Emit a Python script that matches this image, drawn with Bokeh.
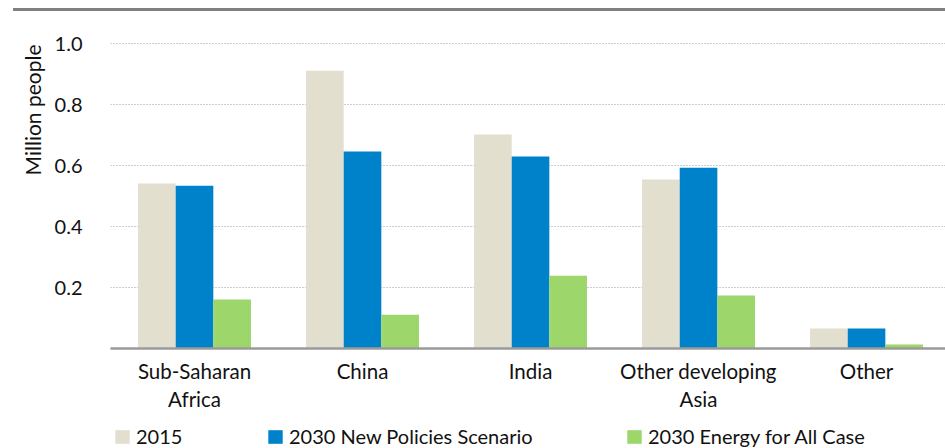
import numpy as np
from bokeh.plotting import figure
from bokeh.models import (ColumnDataSource, Range1d, FixedTicker, Legend,
                          LegendItem, Div, NumeralTickFormatter, Title)
from bokeh.layouts import column
from bokeh.transform import dodge
from bokeh.embed import file_html
from bokeh.resources import INLINE

categories = ["Sub-Saharan\nAfrica", "China", "India", "Other developing\nAsia", "Other"]
v2015 = [0.541, 0.911, 0.702, 0.554, 0.066]
v2030_nps = [0.534, 0.646, 0.630, 0.593, 0.066]
v2030_efa = [0.161, 0.111, 0.239, 0.174, 0.013]
series_names = ["2015", "2030 New Policies Scenario", "2030 Energy for All Case"]
colors = ["#e2dfcf", "#0082ca", "#9dd66b"]
y_ticks = [0.2, 0.4, 0.6, 0.8, 1.0]

FONT = "Lato"
TXT = "#111111"
xs = list(np.arange(len(categories)) + 0.5)
src = ColumnDataSource(dict(x=xs, a=v2015, b=v2030_nps, c=v2030_efa))

p = figure(width=945, height=404, output_backend="svg", toolbar_location=None,
           x_range=Range1d(0, 4.97), y_range=Range1d(0, 1.03),
           min_border_left=110, min_border_right=0, min_border_top=18,
           min_border_bottom=72)
p.outline_line_color = None

bw = 0.224
for key, off, col in zip(["a", "b", "c"], [-bw, 0, bw], colors):
    p.vbar(x=dodge("x", off), top=key, width=bw, source=src,
           fill_color=col, line_color=None)

p.xaxis.ticker = FixedTicker(ticks=xs)
p.xaxis.major_label_overrides = {x: c for x, c in zip(xs, categories)}
p.xaxis.axis_line_color = "#9a9a9a"
p.xaxis.axis_line_width = 2.5
p.xaxis.major_tick_line_color = None
p.xaxis.minor_tick_line_color = None
p.xaxis.major_label_text_font = FONT
p.xaxis.major_label_text_font_size = "20.5px"
p.xaxis.major_label_text_color = TXT
p.xaxis.major_label_standoff = 4

p.yaxis.ticker = FixedTicker(ticks=y_ticks)
p.yaxis.formatter = NumeralTickFormatter(format="0.0")
p.yaxis.axis_line_color = None
p.yaxis.major_tick_line_color = None
p.yaxis.minor_tick_line_color = None
p.yaxis.major_label_text_font = FONT
p.yaxis.major_label_text_font_size = "20px"
p.yaxis.major_label_text_color = TXT
p.yaxis.major_label_standoff = 22

p.xgrid.grid_line_color = None
p.ygrid.ticker = FixedTicker(ticks=y_ticks)
p.ygrid.grid_line_color = "#9a9a9a"
p.ygrid.grid_line_dash = "1 2"
p.ygrid.grid_line_width = 1

p.add_layout(Title(text="Million people", align="right", offset=10,
                   standoff=13, text_font=FONT, text_font_size="21px",
                   text_font_style="normal", text_color=TXT), "left")

# legend strip (proxy bars lie outside its visible range)
lf = figure(width=945, height=28, output_backend="svg", toolbar_location=None,
            x_range=Range1d(-10, -9), y_range=Range1d(0, 1),
            x_axis_location=None, y_axis_location=None, min_border=0)
lf.outline_line_color = None
lf.grid.visible = False
for name, col, vals, lx in zip(series_names, colors, [v2015, v2030_nps, v2030_efa],
                               [3, 156, 515]):
    r = lf.vbar(x=xs, top=vals, width=0.1, fill_color=col, line_color=None)
    lg = Legend(items=[LegendItem(label=name, renderers=[r])], location=(lx, 0),
                orientation="horizontal", padding=0, margin=0, spacing=0,
                glyph_width=18, glyph_height=17, label_height=17,
                label_standoff=5, border_line_color=None,
                background_fill_alpha=0, label_text_font=FONT,
                label_text_font_size="20px", label_text_color=TXT)
    lf.add_layout(lg, "center")

top_line = Div(text="", width=945, height=6,
               styles={"background": "linear-gradient(to bottom, white 3px, transparent 3px), "
                                     "linear-gradient(to right, white 8px, #808080 8px)"})
layout = column(top_line, p, lf, spacing=0)

open("out.html", "w").write(file_html(layout, INLINE))
